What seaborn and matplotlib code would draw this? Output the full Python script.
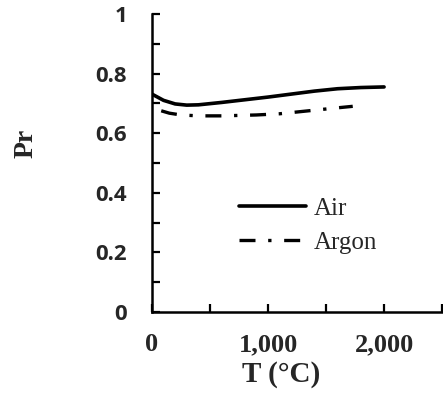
import matplotlib
matplotlib.use("Agg")
import matplotlib.pyplot as plt
from matplotlib.ticker import MultipleLocator, FuncFormatter
import seaborn as sns
import pandas as pd

# Prandtl number vs temperature
air_T = [0, 100, 200, 300, 400, 600, 800, 1000, 1200, 1400, 1600, 1800, 2000]
air_Pr = [0.731, 0.710, 0.698, 0.694, 0.695, 0.703, 0.712, 0.721, 0.731, 0.741, 0.749, 0.753, 0.755]

argon_T = [80, 150, 250, 400, 600, 900, 1100, 1250, 1450, 1600, 1730]
argon_Pr = [0.675, 0.667, 0.661, 0.658, 0.658, 0.661, 0.665, 0.671, 0.679, 0.685, 0.690]

x_ticks = [0, 1000, 2000]
y_ticks = [0, 0.2, 0.4, 0.6, 0.8, 1]

air = pd.DataFrame({"T": air_T, "Pr": air_Pr})
argon = pd.DataFrame({"T": argon_T, "Pr": argon_Pr})

sns.set_style("white")
serif = ["Liberation Serif", "DejaVu Serif"]
sans = ["Open Sans", "DejaVu Sans"]

fig = plt.figure(figsize=(4.43, 3.97), dpi=100)
ax = fig.add_axes([0.343, 0.214, 0.655, 0.751])

sns.lineplot(data=air, x="T", y="Pr", ax=ax, color="black", linewidth=2.6, label="Air")
sns.lineplot(data=argon, x="T", y="Pr", ax=ax, color="black", linewidth=2.4, label="Argon")
ax.lines[1].set_dashes([4.8, 3.8, 1.0, 3.8])
ax.lines[1].set_dash_capstyle("butt")

ax.set_xlim(0, 2500)
ax.set_ylim(0, 1)
ax.xaxis.set_major_locator(MultipleLocator(500))
ax.yaxis.set_major_locator(MultipleLocator(0.1))
ax.xaxis.set_major_formatter(FuncFormatter(lambda v, p: f"{int(round(v)):,}" if int(round(v)) in x_ticks else ""))
ax.yaxis.set_major_formatter(FuncFormatter(
    lambda v, p: (("%g" % round(v, 1)) if any(abs(v - t) < 1e-6 for t in y_ticks) else "")))

for s in ["top", "right"]:
    ax.spines[s].set_visible(False)
for s in ["left", "bottom"]:
    ax.spines[s].set_linewidth(1.8)
    ax.spines[s].set_color("black")

ax.tick_params(axis="both", direction="in", length=6, width=1.6, color="black",
               bottom=True, left=True)
ax.tick_params(axis="x", pad=15)
ax.tick_params(axis="y", pad=18)
for lab in ax.get_xticklabels():
    lab.set_fontfamily(serif)
    lab.set_fontweight("bold")
    lab.set_fontsize(19)
for lab in ax.get_yticklabels():
    lab.set_fontfamily(sans)
    lab.set_fontweight("bold")
    lab.set_fontsize(16)

ax.set_xlabel("T (°C)", fontfamily=serif, fontweight="bold", fontsize=21)
ax.set_ylabel("Pr", fontfamily=serif, fontweight="bold", fontsize=20)
ax.xaxis.set_label_coords(0.445, -0.165)
ax.yaxis.set_label_coords(-0.39, 0.567)

leg = ax.legend(loc="center left", bbox_to_anchor=(0.222, 0.29), frameon=False,
                prop={"family": serif, "size": 18}, handlelength=2.7,
                handletextpad=0.3, labelspacing=0.45)

fig.savefig("out.png", dpi=100, facecolor="white")
